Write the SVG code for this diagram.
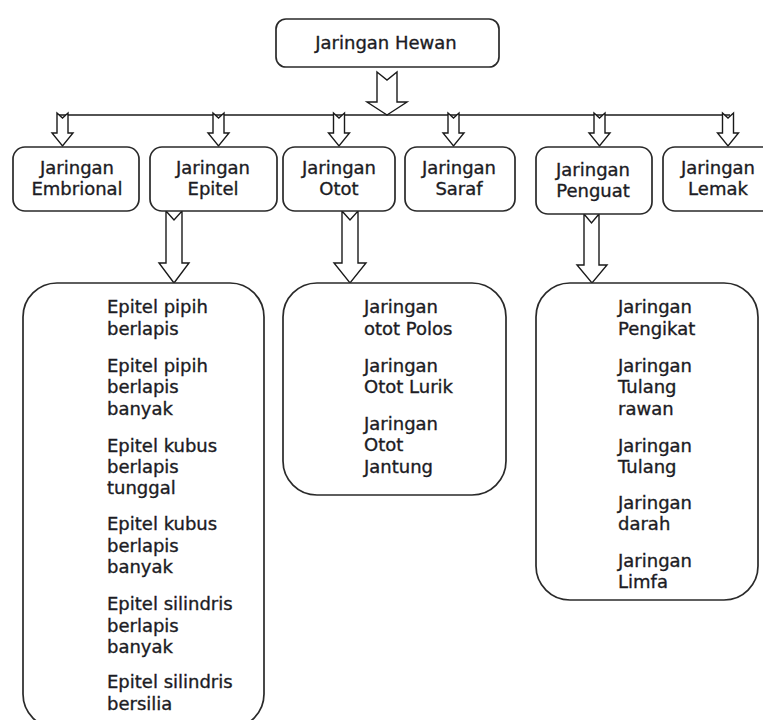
<svg xmlns="http://www.w3.org/2000/svg" width="763" height="720" viewBox="0 0 763 720">
<style>
.box{fill:#fff;stroke:#2a2a2a;stroke-width:1.7}
.arr{fill:#fff;stroke:#1a1a1a;stroke-width:1.4;stroke-linejoin:miter}
.ln{fill:none;stroke:#1a1a1a;stroke-width:1.6}
text{font-family:"DejaVu Sans","Verdana",sans-serif;font-size:18px;fill:#1c1c24;stroke:#1c1c24;stroke-width:0.35}
.c{text-anchor:middle}
</style>
<rect width="763" height="720" fill="#fff"/>
<g id="connectors">
<line class="ln" x1="58" y1="115" x2="730" y2="115"/>
<path class="arr" d="M377,72 L387,80 L397,72 L397,102 L407,102 L387,115 L367,102 L377,102 Z"/>
<path class="arr" d="M57,113 L62.5,118 L68,113 L68,133 L73,133 L62.5,146 L52,133 L57,133 Z"/>
<path class="arr" d="M213,113 L218.5,118 L224,113 L224,133 L229,133 L218.5,146 L208,133 L213,133 Z"/>
<path class="arr" d="M333.5,113 L339,118 L344.5,113 L344.5,133 L349.5,133 L339,146 L328.5,133 L333.5,133 Z"/>
<path class="arr" d="M448,113 L453.5,118 L459,113 L459,133 L464,133 L453.5,146 L443,133 L448,133 Z"/>
<path class="arr" d="M594,113 L599.5,118 L605,113 L605,133 L610,133 L599.5,146 L589,133 L594,133 Z"/>
<path class="arr" d="M722.5,113 L728,118 L733.5,113 L733.5,133 L738.5,133 L728,146 L717.5,133 L722.5,133 Z"/>
<path class="arr" d="M166,211 L174,220 L182,211 L182,263 L189,263 L174,283 L159,263 L166,263 Z"/>
<path class="arr" d="M342,211 L350,220 L358,211 L358,263 L366,263 L350,283 L334,263 L342,263 Z"/>
<path class="arr" d="M584,214 L591.5,223 L599,214 L599,265 L607,265 L592,283 L577,265 L584,265 Z"/>
</g>
<g id="jaringan-hewan">
<rect class="box" x="276" y="19" width="223" height="48" rx="10"/>
<text class="c" x="386" y="49">Jaringan Hewan</text>
</g>
<g id="jaringan-embrional">
<rect class="box" x="13" y="147" width="126" height="64" rx="12"/>
<text class="c" x="77" y="174">Jaringan</text>
<text class="c" x="77" y="195">Embrional</text>
</g>
<g id="jaringan-epitel">
<rect class="box" x="150" y="147" width="127" height="64" rx="12"/>
<text class="c" x="213" y="174">Jaringan</text>
<text class="c" x="213" y="195">Epitel</text>
</g>
<g id="jaringan-otot">
<rect class="box" x="283" y="147" width="112" height="64" rx="12"/>
<text class="c" x="339" y="174">Jaringan</text>
<text class="c" x="339" y="195">Otot</text>
</g>
<g id="jaringan-saraf">
<rect class="box" x="405" y="147" width="110" height="64" rx="12"/>
<text class="c" x="459" y="174">Jaringan</text>
<text class="c" x="459" y="195">Saraf</text>
</g>
<g id="jaringan-penguat">
<rect class="box" x="536" y="147" width="116" height="67" rx="12"/>
<text class="c" x="593" y="176">Jaringan</text>
<text class="c" x="593" y="197">Penguat</text>
</g>
<g id="jaringan-lemak">
<rect class="box" x="663" y="147" width="120" height="64" rx="12"/>
<text class="c" x="718" y="174">Jaringan</text>
<text class="c" x="718" y="195">Lemak</text>
</g>
<g id="list-epitel">
<rect class="box" x="23" y="283" width="241" height="445" rx="34"/>
<text x="107" y="313">Epitel pipih</text>
<text x="107" y="335">berlapis</text>
<text x="107" y="371.5">Epitel pipih</text>
<text x="107" y="393">berlapis</text>
<text x="107" y="415">banyak</text>
<text x="107" y="451.5">Epitel kubus</text>
<text x="107" y="472.5">berlapis</text>
<text x="107" y="494">tunggal</text>
<text x="107" y="530">Epitel kubus</text>
<text x="107" y="551.5">berlapis</text>
<text x="107" y="573">banyak</text>
<text x="107" y="610">Epitel silindris</text>
<text x="107" y="631.5">berlapis</text>
<text x="107" y="653">banyak</text>
<text x="107" y="688">Epitel silindris</text>
<text x="107" y="710">bersilia</text>
</g>
<g id="list-otot">
<rect class="box" x="283" y="283" width="223" height="212" rx="34"/>
<text x="364" y="313">Jaringan</text>
<text x="364" y="335">otot Polos</text>
<text x="364" y="371.5">Jaringan</text>
<text x="364" y="393">Otot Lurik</text>
<text x="364" y="429.5">Jaringan</text>
<text x="364" y="451">Otot</text>
<text x="364" y="472.5">Jantung</text>
</g>
<g id="list-penguat">
<rect class="box" x="536" y="283" width="222" height="317" rx="34"/>
<text x="618" y="313">Jaringan</text>
<text x="618" y="335">Pengikat</text>
<text x="618" y="371.5">Jaringan</text>
<text x="618" y="393">Tulang</text>
<text x="618" y="415">rawan</text>
<text x="618" y="451.5">Jaringan</text>
<text x="618" y="472.5">Tulang</text>
<text x="618" y="509">Jaringan</text>
<text x="618" y="530">darah</text>
<text x="618" y="566.5">Jaringan</text>
<text x="618" y="588">Limfa</text>
</g>
</svg>
